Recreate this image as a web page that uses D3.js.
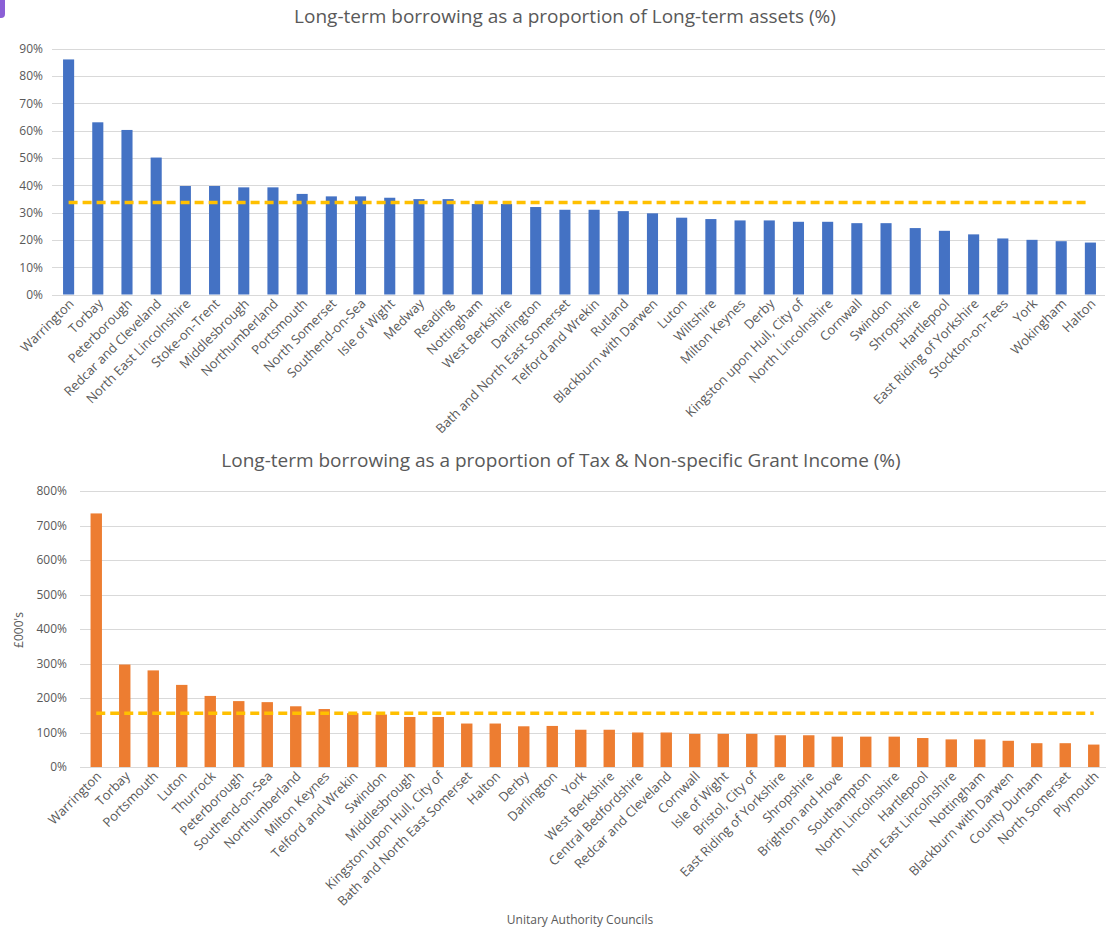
<!DOCTYPE html>
<html><head><meta charset="utf-8">
<script src="https://cdn.jsdelivr.net/npm/d3@7"></script>
<style>
html,body{margin:0;padding:0;background:#fff;}
svg{display:block;font-family:"Open Sans",sans-serif;}
</style></head><body>
<svg id="chart" width="1106" height="932"></svg>
<script>
// ---- Data ----
const topTitle = "Long-term borrowing as a proportion of Long-term assets (%)";
const topCategories = ["Warrington","Torbay","Peterborough","Redcar and Cleveland","North East Lincolnshire","Stoke-on-Trent","Middlesbrough","Northumberland","Portsmouth","North Somerset","Southend-on-Sea","Isle of Wight","Medway","Reading","Nottingham","West Berkshire","Darlington","Bath and North East Somerset","Telford and Wrekin","Rutland","Blackburn with Darwen","Luton","Wiltshire","Milton Keynes","Derby","Kingston upon Hull, City of","North Lincolnshire","Cornwall","Swindon","Shropshire","Hartlepool","East Riding of Yorkshire","Stockton-on-Tees","York","Wokingham","Halton"];
const topValues = [86,63,60.2,50.1,39.7,39.7,39.2,39.2,36.8,35.9,35.9,35.4,34.9,34.9,33.1,33.1,32,31,31,30.5,29.7,28.1,27.6,27.1,27.1,26.6,26.6,26.1,26.1,24.3,23.3,22,20.5,20,19.5,19];
const topAverage = 33.7;
const topTicks = [0,10,20,30,40,50,60,70,80,90];

const bottomTitle = "Long-term borrowing as a proportion of Tax & Non-specific Grant Income (%)";
const bottomCategories = ["Warrington","Torbay","Portsmouth","Luton","Thurrock","Peterborough","Southend-on-Sea","Northumberland","Milton Keynes","Telford and Wrekin","Swindon","Middlesbrough","Kingston upon Hull, City of","Bath and North East Somerset","Halton","Derby","Darlington","York","West Berkshire","Central Bedfordshire","Redcar and Cleveland","Cornwall","Isle of Wight","Bristol, City of","East Riding of Yorkshire","Shropshire","Brighton and Hove","Southampton","North Lincolnshire","Hartlepool","North East Lincolnshire","Nottingham","Blackburn with Darwen","County Durham","North Somerset","Plymouth"];
const bottomValues = [735,297,280,238,206,191,188,176,168,156,152,145,145,126,126,118,119,108,108,100,100,96,96,96,92,92,88,88,88,84,80,80,76,69,69,65];
const bottomAverage = 156;
const bottomTicks = [0,100,200,300,400,500,600,700,800];
const bottomYTitle = "£000's";
const bottomXTitle = "Unitary Authority Councils";

// ---- Drawing ----
const svg = d3.select("#chart");
const textColor = "#595959";
const gridColor = "#d9d9d9";

// small purple decoration top-left
svg.append("rect").attr("x",-6).attr("y",-6).attr("width",11).attr("height",24).attr("rx",4).attr("fill","#8b5fd6");

function drawChart(cfg){
  const g = svg.append("g");
  const x = d3.scaleBand().domain(cfg.categories).range([cfg.x0, cfg.x1]).paddingInner(cfg.pad).paddingOuter(cfg.pad/2);
  const y = d3.scaleLinear().domain([0, cfg.ymax]).range([cfg.yBottom, cfg.yTop]);

  // title
  g.append("text").attr("x", cfg.titleX).attr("y", cfg.titleY).attr("text-anchor","middle")
    .attr("fill", textColor).style("font-size","19px").text(cfg.title);

  // gridlines
  g.append("g").selectAll("line").data(cfg.ticks).join("line")
    .attr("x1", cfg.gridX0).attr("x2", cfg.x1).attr("y1", d=>Math.round(y(d))+0.5).attr("y2", d=>Math.round(y(d))+0.5)
    .attr("stroke", gridColor).attr("stroke-width",1);

  // y axis labels
  const yAxis = d3.axisLeft(y).tickValues(cfg.ticks).tickFormat(d=>d+"%").tickSize(0).tickPadding(0);
  const ya = g.append("g").attr("transform",`translate(${cfg.yLabelX},0)`).call(yAxis);
  ya.select(".domain").remove();
  ya.selectAll("text").attr("fill",textColor).style("font-size","12px").style("font-family","'Open Sans',sans-serif");

  // bars
  g.append("g").selectAll("rect").data(cfg.values).join("rect")
    .attr("x",(d,i)=>x(cfg.categories[i]))
    .attr("width",x.bandwidth())
    .attr("y",d=>y(d))
    .attr("height",d=>y(0)-y(d))
    .attr("fill",cfg.color);

  // average line
  const avgData = cfg.categories.map(c=>({c, v:cfg.average}));
  const line = d3.line().x(d=>x(d.c)+x.bandwidth()/2).y(d=>y(d.v));
  g.append("path").datum(avgData).attr("d",line).attr("fill","none")
    .attr("stroke","#ffc000").attr("stroke-width",3.5).attr("stroke-dasharray","9,5");

  // x axis labels
  const xa = d3.axisBottom(x).tickSize(0).tickPadding(0);
  const xg = g.append("g").attr("transform",`translate(0,${cfg.yBottom})`).call(xa);
  xg.select(".domain").remove();
  xg.selectAll("text")
    .attr("fill",textColor).style("font-size","13px").style("font-family","'Open Sans',sans-serif")
    .attr("text-anchor","end")
    .attr("dy",null).attr("y",null)
    .attr("transform","translate(6,10) rotate(-45)");
  return {x,y};
}

drawChart({
  title: topTitle, titleX: 565, titleY: 23,
  categories: topCategories, values: topValues, average: topAverage,
  ticks: topTicks, ymax: 90, yTop: 48.5, yBottom: 294.5,
  x0: 54, x1: 1105, gridX0: 52, pad: 0.62, yLabelX: 43, color: "#4472c4"
});

drawChart({
  title: bottomTitle, titleX: 561, titleY: 467,
  categories: bottomCategories, values: bottomValues, average: bottomAverage,
  ticks: bottomTicks, ymax: 800, yTop: 491, yBottom: 767,
  x0: 82, x1: 1108, gridX0: 80, pad: 0.6, yLabelX: 67, color: "#ed7d31"
});

svg.append("text").attr("transform","translate(23,630) rotate(-90)").attr("text-anchor","middle")
  .attr("fill",textColor).style("font-size","12px").text(bottomYTitle);
svg.append("text").attr("x",580).attr("y",924).attr("text-anchor","middle")
  .attr("fill",textColor).style("font-size","12px").text(bottomXTitle);
</script>
</body></html>
